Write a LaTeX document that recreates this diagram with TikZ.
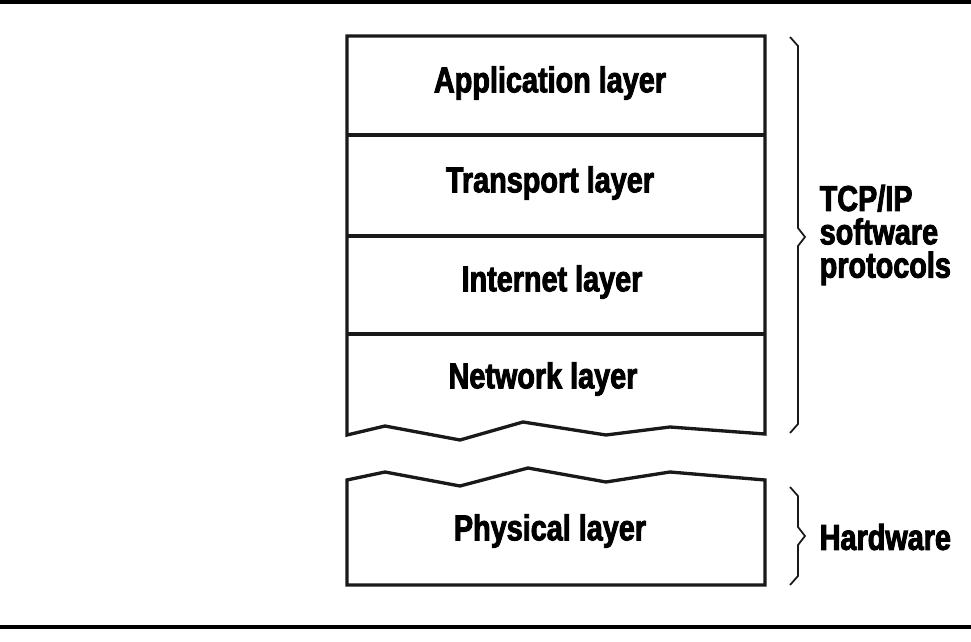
\documentclass[tikz,border=0pt]{standalone}
\usepackage{fontspec}
\setmainfont{Liberation Sans}[FakeStretch=0.8,BoldFeatures={FakeBold=2.5}]
\begin{document}
\begin{tikzpicture}[x=0.75pt,y=-0.75pt,line join=miter,
  box/.style={line width=2.5pt,draw=black!90},
  brace/.style={line width=1.3pt,draw=black!90},
  lab/.style={font=\fontsize{27}{27}\selectfont\bfseries},
  side/.style={font=\fontsize{27}{25}\selectfont\bfseries,align=left,anchor=west}]
\useasboundingbox (0,0) rectangle (971,642);
\draw[line width=2.5pt] (0,2) -- (971,2);
\draw[line width=2.5pt] (0,627) -- (971,627);
% top block
\draw[box] (347,435) -- (347,36) -- (765,36) -- (765,434) -- (670,427) -- (606,435) -- (523,422) -- (460,440) -- (385,426) -- cycle;
\draw[box] (347,135) -- (765,135);
\draw[box] (347,236) -- (765,236);
\draw[box] (347,334) -- (765,334);
\node[lab] (app) at (550,83) {Application layer};
\node[lab] (tr) at (550,183) {Transport layer};
\node[lab] (inet) at (552,282) {Internet layer};
\node[lab] (net) at (543,379) {Network layer};
% lower block
\draw[box] (347,585) -- (347,480) -- (385,472) -- (460,486) -- (528,468) -- (606,482) -- (670,472) -- (765,480) -- (765,585) -- cycle;
\node[lab] (phy) at (550,531) {Physical layer};
% braces
\draw[brace] (790,37) -- (798,46) -- (798,228) -- (805,237) -- (798,246) -- (798,424) -- (790,433);
\draw[brace] (790,487) -- (798,496) -- (798,527) -- (805,536) -- (798,545) -- (798,576) -- (790,585);
\node[side] (tcp) at (815,235) {TCP/IP\\software\\protocols};
\node[side] (hw) at (815,537) {Hardware};
\end{tikzpicture}
\end{document}
